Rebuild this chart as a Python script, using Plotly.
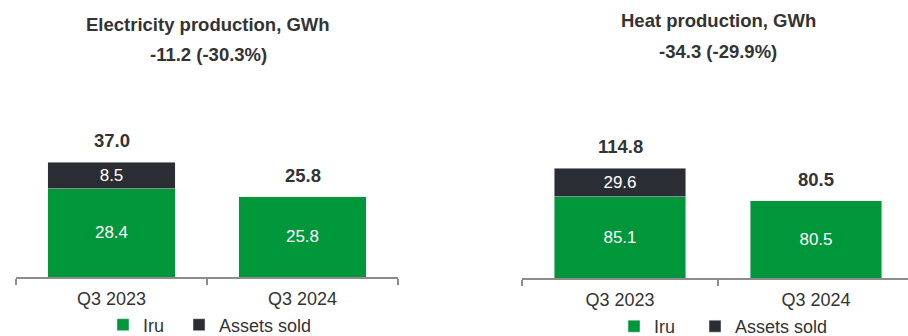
import plotly.graph_objects as go

categories = ["Q3 2023", "Q3 2024"]
elec_iru = [28.4, 25.8]
elec_sold = [8.5, None]
elec_total = [37.0, 25.8]
heat_iru = [85.1, 80.5]
heat_sold = [29.6, None]
heat_total = [114.8, 80.5]
series_names = ["Iru", "Assets sold"]
elec_title = "Electricity production, GWh"
elec_change = "-11.2 (-30.3%)"
heat_title = "Heat production, GWh"
heat_change = "-34.3 (-29.9%)"

GREEN = "#00963a"
DARK = "#2b2d35"
TEXT = "#333333"
AXIS = "#8c8c8c"
FONT = "Liberation Sans, Arial, sans-serif"
W, H = 908, 336

fig = go.Figure()

def add_panel(iru, sold, xa, ya, legend, pad):
    fig.add_trace(go.Bar(
        x=categories, y=iru, name=series_names[0] + "\u00a0" * pad, marker_color=GREEN, width=0.67,
        text=[f"{v:.1f}" for v in iru], textposition="inside",
        insidetextanchor="middle", constraintext="none",
        textfont=dict(color="white", size=17, family=FONT),
        xaxis=xa, yaxis=ya, legend=legend, hoverinfo="skip"))
    fig.add_trace(go.Bar(
        x=categories, y=sold, name=series_names[1], marker_color=DARK, width=0.67,
        text=[f"{v:.1f}" if v is not None else "" for v in sold], textposition="inside",
        insidetextanchor="middle", constraintext="none",
        textfont=dict(color="white", size=17, family=FONT),
        xaxis=xa, yaxis=ya, legend=legend, hoverinfo="skip"))

add_panel(elec_iru, elec_sold, "x", "y", "legend", 2)
add_panel(heat_iru, heat_sold, "x2", "y2", "legend2", 3)

for xref, yref, tot in (("x", "y", elec_total), ("x2", "y2", heat_total)):
    for c, t in zip(categories, tot):
        fig.add_annotation(x=c, y=t, xref=xref, yref=yref, text=f"<b>{t:.1f}</b>",
                           showarrow=False, yanchor="bottom", yshift=9,
                           font=dict(size=18.5, color=TEXT, family=FONT))

def px_x(p):
    return p / W

def px_y(p):
    return (H - p) / H

for x, y, txt in ((208, 25, elec_title), (208, 55, elec_change),
                  (718, 20, heat_title), (718, 51, heat_change)):
    fig.add_annotation(x=px_x(x), y=px_y(y), xref="paper", yref="paper",
                       text=f"<b>{txt}</b>", showarrow=False,
                       xanchor="center", yanchor="middle",
                       font=dict(size=18.5, color=TEXT, family=FONT))

xcommon = dict(type="category", showline=True, linecolor=AXIS, linewidth=2,
               ticks="outside", tickson="boundaries", ticklen=6, tickcolor=AXIS,
               tickwidth=2, showgrid=False, zeroline=False, fixedrange=True,
               ticklabelstandoff=4,
               tickfont=dict(size=18, color=TEXT, family=FONT))
ycommon = dict(visible=False, showgrid=False, zeroline=False, fixedrange=True)

left_dom = [px_x(16), px_x(398)]
right_start = 522
right_end_val = (W - right_start) / 196 - 0.5

fig.update_layout(
    width=W, height=H, margin=dict(l=0, r=0, t=0, b=0, autoexpand=False),
    paper_bgcolor="white", plot_bgcolor="white",
    barmode="stack", showlegend=True,
    font=dict(family=FONT, color=TEXT),
    xaxis=dict(domain=left_dom, range=[-0.5, 1.5], anchor="y", **xcommon),
    yaxis=dict(domain=[px_y(277), 1], range=[0, 277 / 3.11], anchor="x", **ycommon),
    xaxis2=dict(domain=[px_x(right_start), 1], range=[-0.5, right_end_val], anchor="y2", **xcommon),
    yaxis2=dict(domain=[px_y(278), 1], range=[0, 278 / 0.957], anchor="x2", **ycommon),
    legend=dict(orientation="h", x=px_x(103), y=px_y(325), xanchor="left", yanchor="middle",
                font=dict(size=18, color=TEXT, family=FONT), bgcolor="rgba(0,0,0,0)",
                traceorder="normal"),
    legend2=dict(orientation="h", x=px_x(614), y=px_y(326.5), xanchor="left", yanchor="middle",
                 font=dict(size=18, color=TEXT, family=FONT), bgcolor="rgba(0,0,0,0)",
                 traceorder="normal"),
)

fig.write_html("out.html")
